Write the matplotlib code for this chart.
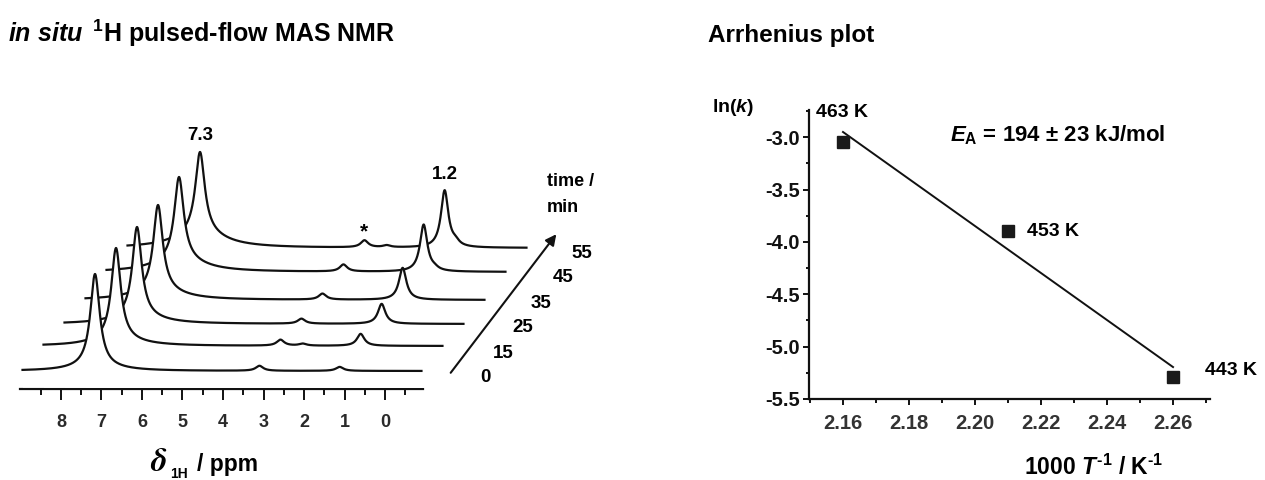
import numpy as np
import matplotlib
matplotlib.use('Agg')
import matplotlib.pyplot as plt
from matplotlib.ticker import FormatStrFormatter, FixedLocator

plt.rcParams['font.family'] = ['Liberation Sans', 'DejaVu Sans']
plt.rcParams['font.weight'] = 'bold'
plt.rcParams['axes.unicode_minus'] = False
plt.rcParams['mathtext.fontset'] = 'custom'
plt.rcParams['mathtext.rm'] = 'Liberation Sans:bold'
plt.rcParams['mathtext.it'] = 'Liberation Sans:italic:bold'
plt.rcParams['mathtext.bf'] = 'Liberation Sans:bold'
plt.rcParams['mathtext.sf'] = 'Liberation Sans:bold'

# ---------------- NMR data ----------------
times = ['0', '15', '25', '35', '45', '55']
main_ppm = 7.16                                   # aromatic signal (labelled 7.3)
main_height = [93, 92, 90, 86, 83, 81]            # narrow component
broad_height = [4, 6, 7, 9, 12, 15]               # broad foot of the signal
minor_ppm = [3.10, 2.55, 1.12, 0.85]
minor_height = [
    [5, 6, 5, 6, 7, 7],       # 3.1 ppm
    [0, 2, 0, 0, 0, 2],       # 2.55 ppm
    [4, 12, 20, 32, 47, 57],  # 1.2 ppm signal growing with time
    [0, 0, 0, 0, 2, 4],       # shoulder
]
main_fwhm = 0.28
broad_fwhm = 1.4
minor_fwhm = 0.22
ppm_range = (8.95, -0.90)
ppm_ticks = [8, 7, 6, 5, 4, 3, 2, 1, 0]

# ---------------- Arrhenius data ----------------
inv_T = [2.16, 2.21, 2.26]
ln_k = [-3.05, -3.90, -5.29]
temp_labels = ['463 K', '453 K', '443 K']
fit_x = [2.16, 2.26]
fit_y = [-2.95, -5.195]

W, H = 1265, 480
fig = plt.figure(figsize=(W / 100, H / 100), dpi=100)


def fx(px):
    return px / W


def fy(py):
    return 1 - py / H


def lor(x, x0, fwhm, h):
    return h / (1 + ((x - x0) / (fwhm / 2)) ** 2)


# ---------------- left panel: stacked spectra ----------------
ax1 = fig.add_axes([fx(20), fy(389), 403 / W, 279 / H])
ax1.set_xlim(9.012, -0.938)
ax1.set_ylim(0, 279)
for s in ['left', 'right', 'top']:
    ax1.spines[s].set_visible(False)
ax1.spines['bottom'].set_linewidth(1.6)
ax1.spines['bottom'].set_color('#111111')
ax1.set_yticks([])
ax1.xaxis.set_major_locator(FixedLocator(ppm_ticks))
ax1.xaxis.set_minor_locator(FixedLocator([8.5, 7.5, 6.5, 5.5, 4.5, 3.5, 2.5, 1.5, 0.5, -0.5]))
ax1.xaxis.set_major_formatter(FormatStrFormatter('%d'))
ax1.tick_params(axis='x', which='major', direction='out', length=8, width=1.4,
                pad=10, labelsize=13, labelcolor='#2a2a2a', color='#111111')
ax1.tick_params(axis='x', which='minor', direction='out', length=4.3, width=1.4, color='#111111')

baseline_px = [18, 43, 65, 89, 117, 141]   # stacking offsets (layout)
shift_px = 21.0                            # perspective shift per trace
px_per_ppm = 40.5
x_int = np.linspace(ppm_range[0], ppm_range[1], 3000)
for k in range(len(times)):
    y = np.full_like(x_int, baseline_px[k], dtype=float)
    y += lor(x_int, main_ppm, main_fwhm, main_height[k])
    y += lor(x_int, main_ppm, broad_fwhm, broad_height[k])
    for p, hs in zip(minor_ppm, minor_height):
        if hs[k] > 0:
            y += lor(x_int, p, minor_fwhm, hs[k])
    xs = x_int - k * shift_px / px_per_ppm
    z = 10 - k
    ax1.fill_between(xs, 2, y, color='white', zorder=z, lw=0, clip_on=False)
    ax1.plot(xs, y, color='#111111', lw=1.6, zorder=z + 0.5, clip_on=False)

fig.text(fx(200), fy(135), '7.3', ha='center', va='center', fontsize=13.5)
fig.text(fx(445), fy(175), '1.2', ha='center', va='center', fontsize=13.5)
fig.text(fx(364), fy(232), '*', ha='center', va='center', fontsize=15)

time_pos = [(485, 378), (503, 353), (523, 328), (541, 303), (563, 278), (582, 254)]
for t, (px, py) in zip(times, time_pos):
    fig.text(fx(px), fy(py), t, ha='center', va='center', fontsize=13.5)
fig.text(fx(547), fy(182), 'time /', ha='left', va='center', fontsize=13)
fig.text(fx(547), fy(207), 'min', ha='left', va='center', fontsize=13)

fig.add_artist(matplotlib.patches.FancyArrowPatch(
    (fx(449), fy(375)), (fx(558), fy(232)), transform=fig.transFigure,
    arrowstyle='-|>', mutation_scale=16, lw=1.5, color='#111111'))

# x label: delta_1H / ppm
fig.text(fx(150), fy(471), r'$\delta$', ha='left', va='baseline', fontsize=24,
         math_fontfamily='stix')
fig.text(fx(170), fy(478), '1H', ha='left', va='baseline', fontsize=10)
fig.text(fx(197), fy(471), '/ ppm', ha='left', va='baseline', fontsize=16.5)

fig.text(fx(8), fy(42), r'$in\ situ\,$ $^{\mathrm{1}}$H pulsed-flow MAS NMR', ha='left',
         va='baseline', fontsize=18)

# ---------------- right panel: Arrhenius plot ----------------
ax2 = fig.add_axes([fx(809), fy(399), 401 / W, 289 / H])
ax2.set_xlim(2.1497, 2.2712)
ax2.set_ylim(-5.5, -2.74)
for s in ['right', 'top']:
    ax2.spines[s].set_visible(False)
for s in ['left', 'bottom']:
    ax2.spines[s].set_linewidth(1.6)
    ax2.spines[s].set_color('#111111')
ax2.xaxis.set_major_locator(FixedLocator([2.16, 2.18, 2.20, 2.22, 2.24, 2.26]))
ax2.xaxis.set_minor_locator(FixedLocator([2.15, 2.17, 2.19, 2.21, 2.23, 2.25, 2.27]))
ax2.xaxis.set_major_formatter(FormatStrFormatter('%.2f'))
ax2.yaxis.set_major_locator(FixedLocator([-3.0, -3.5, -4.0, -4.5, -5.0, -5.5]))
ax2.yaxis.set_minor_locator(FixedLocator([-2.75, -3.25, -3.75, -4.25, -4.75, -5.25]))
ax2.yaxis.set_major_formatter(FormatStrFormatter('%.1f'))
ax2.tick_params(axis='x', which='major', direction='out', length=4, width=1.4, pad=7,
                labelsize=14.5, labelcolor='#333333', color='#111111')
ax2.tick_params(axis='x', which='minor', direction='out', length=3, width=1.4, color='#111111')
ax2.tick_params(axis='y', which='major', direction='out', length=4.5, width=1.4, pad=2,
                labelsize=14.5, labelcolor='#111111', color='#111111')
ax2.tick_params(axis='y', which='minor', direction='out', length=2.5, width=1.4, color='#111111')

ax2.plot(fit_x, fit_y, color='#111111', lw=1.4, zorder=3)
ax2.plot(inv_T, ln_k, ls='none', marker='s', ms=8, color='#1a1a1a', zorder=4, clip_on=False)
label_off = [(-27, 30), (19, 0), (32, 7)]
for xv, yv, lab, (dx, dy) in zip(inv_T, ln_k, temp_labels, label_off):
    ax2.annotate(lab, (xv, yv), xytext=(dx, dy), textcoords='offset pixels',
                 ha='left', va='center', fontsize=14)

fig.text(fx(950), fy(135), r'$E_{\mathrm{A}}$ = 194 ± 23 kJ/mol', ha='left', va='center',
         fontsize=16)
fig.text(fx(712), fy(107), r'ln($k$)', ha='left', va='center', fontsize=14)
fig.text(fx(1094), fy(467), '1000 $T^{\u2010\\mathrm{1}}$ / K$^{\u2010\\mathrm{1}}$',
         ha='center', va='center', fontsize=16.5)
fig.text(fx(708), fy(42), 'Arrhenius plot', ha='left', va='baseline', fontsize=17.5)

fig.savefig('out.png', dpi=100, facecolor='white')
